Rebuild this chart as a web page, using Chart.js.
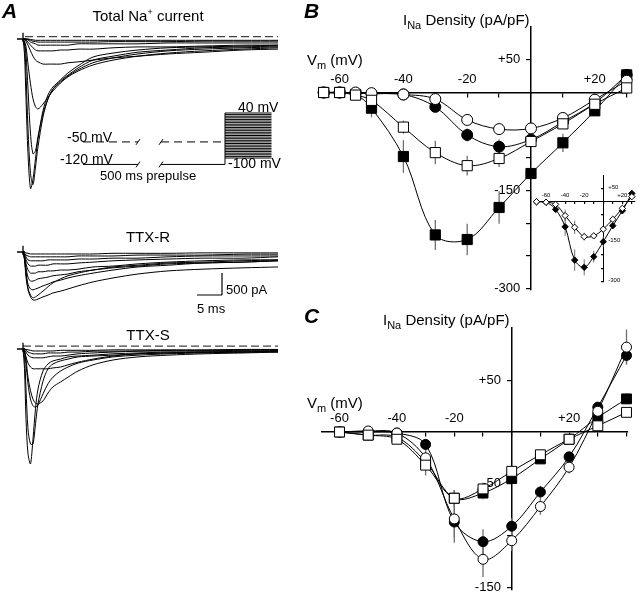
<!DOCTYPE html>
<html>
<head>
<meta charset="utf-8">
<script src="https://cdn.jsdelivr.net/npm/chart.js@4.4.1/dist/chart.umd.min.js"></script>
<style>
  html, body { margin: 0; padding: 0; background: #fff; overflow: hidden; }
  #fig { position: relative; width: 640px; height: 594px; overflow: hidden;
         font-family: "Liberation Sans", Arial, sans-serif; color: #000; }
  #fig canvas { position: absolute; }
  .t { position: absolute; white-space: nowrap; line-height: 1; }
  .c { transform: translateX(-50%); }
  .p { font-weight: bold; font-style: italic; font-size: 21px; }
  .sub { font-size: 11px; position: relative; top: 4px; }
  .sup { font-size: 9px; position: relative; top: -6px; }
</style>
</head>
<body>
<div id="fig">
  <canvas id="cTot" width="300" height="185" style="left:0;top:20px"></canvas>
  <canvas id="cR" width="300" height="100" style="left:0;top:225px"></canvas>
  <canvas id="cS" width="300" height="150" style="left:0;top:325px"></canvas>
  <canvas id="cB" width="340" height="310" style="left:300px;top:0"></canvas>
  <canvas id="cC" width="340" height="310" style="left:300px;top:300px"></canvas>
  <canvas id="cIn" width="120" height="125" style="left:520px;top:165px"></canvas>

  <div class="t p" style="left:2px;top:0">A</div>
  <div class="t p" style="left:304px;top:0">B</div>
  <div class="t p" style="left:304px;top:305px">C</div>

  <div class="t c" style="left:148px;top:8px;font-size:15px">Total Na<span class="sup">+</span> current</div>
  <div class="t c" style="left:148px;top:229px;font-size:15px">TTX-R</div>
  <div class="t c" style="left:148px;top:327px;font-size:15px">TTX-S</div>

  <div class="t" style="left:67px;top:130px;font-size:14px">-50 mV</div>
  <div class="t" style="left:60px;top:152px;font-size:14px">-120 mV</div>
  <div class="t" style="left:100px;top:169px;font-size:13px">500 ms prepulse</div>
  <div class="t" style="left:238px;top:100px;font-size:14px">40 mV</div>
  <div class="t" style="left:228px;top:156px;font-size:14px">-100 mV</div>
  <div class="t" style="left:226px;top:283px;font-size:13px">500 pA</div>
  <div class="t" style="left:197px;top:302px;font-size:13px">5 ms</div>

  <div class="t" style="left:403px;top:12px;font-size:15px">I<span class="sub">Na</span> Density (pA/pF)</div>
  <div class="t" style="left:307px;top:52px;font-size:15px">V<span class="sub">m</span> (mV)</div>
  <div class="t" style="left:383px;top:312px;font-size:15px">I<span class="sub">Na</span> Density (pA/pF)</div>
  <div class="t" style="left:307px;top:395px;font-size:15px">V<span class="sub">m</span> (mV)</div>
</div>

<script>
// ---------- panel A: current traces, pA, sampled at T_MS (ms) ----------
const T_MS = [0, 0.3, 0.6, 1, 1.5, 2, 2.5, 3, 4, 5, 6, 7.5, 9, 11, 14, 18, 23, 29, 36, 44, 51];

const TOT_1 = [0,-340,-1360,-2610,-3400,-3180,-2720,-2270,-1630,-1270,-1090,-930,-770,-610,-410,-320,-250,-200,-180,-160,-140];
const TOT_2 = [0,-110,-790,-2040,-3060,-3310,-2910,-2450,-1770,-1360,-1140,-950,-820,-660,-480,-390,-300,-250,-200,-180,-160];
const TOT_3 = [0,-70,-340,-1140,-2160,-2610,-2540,-2220,-1700,-1360,-1140,-980,-840,-700,-540,-430,-340,-270,-230,-200,-180];
const TOT_4 = [0,-50,-180,-570,-1020,-1360,-1540,-1590,-1480,-1320,-1180,-1000,-860,-730,-590,-480,-390,-320,-270,-230,-200];
const TOT_5 = [0,0,-50,-140,-270,-390,-480,-520,-570,-570,-570,-570,-540,-520,-480,-430,-390,-340,-300,-250,-230];
const TOT_6 = [0,0,-20,-70,-140,-200,-250,-270,-270,-270,-270,-250,-250,-230,-230,-200,-180,-180,-160,-140,-140];
const TOT_7 = [0,0,0,-20,-70,-90,-110,-140,-140,-140,-140,-140,-140,-110,-110,-110,-110,-90,-90,-90,-90];
const TOT_8 = [0,0,0,-10,-30,-50,-60,-70,-70,-70,-70,-70,-70,-70,-70,-60,-60,-60,-50,-50,-50];
const TOT_9 = [0,0,0,0,-10,-20,-30,-30,-30,-30,-30,-30,-30,-30,-30,-30,-30,-30,-30,-30,-30];

const R_1 = [0,-180,-570,-860,-1020,-1090,-1090,-1070,-1020,-980,-930,-890,-840,-770,-680,-590,-500,-430,-390,-360,-340];
const R_2 = [0,-140,-500,-820,-980,-1040,-1020,-980,-890,-790,-700,-610,-540,-480,-410,-340,-300,-250,-230,-200,-180];
const R_3 = [0,-140,-450,-730,-840,-860,-840,-820,-770,-730,-680,-640,-590,-540,-480,-410,-340,-300,-250,-230,-200];
const R_4 = [0,-110,-360,-570,-660,-660,-640,-610,-590,-570,-540,-520,-500,-450,-410,-360,-320,-270,-250,-230,-200];
const R_5 = [0,-90,-270,-410,-480,-480,-480,-450,-450,-430,-430,-410,-410,-390,-340,-320,-270,-230,-200,-180,-180];
const R_6 = [0,-70,-180,-270,-320,-320,-320,-300,-300,-300,-270,-270,-270,-250,-230,-200,-180,-160,-140,-140,-110];
const R_7 = [0,-50,-110,-180,-200,-200,-200,-200,-200,-180,-180,-180,-180,-160,-160,-140,-140,-110,-90,-90,-90];
const R_8 = [0,-20,-70,-90,-110,-110,-110,-110,-110,-110,-110,-110,-110,-90,-90,-90,-70,-70,-70,-50,-50];
const R_9 = [0,0,-20,-30,-45,-45,-45,-45,-45,-45,-45,-45,-45,-45,-45,-30,-30,-30,-20,-20,-20];

const S_1 = [0,-450,-1590,-2380,-2610,-2040,-1360,-910,-500,-340,-270,-230,-180,-160,-140,-110,-90,-70,-70,-50,-50];
const S_2 = [0,-180,-910,-1820,-2160,-2160,-1700,-1250,-730,-450,-340,-270,-230,-180,-160,-140,-110,-90,-70,-70,-50];
const S_3 = [0,-70,-340,-790,-1140,-1290,-1320,-1270,-1020,-790,-640,-500,-410,-320,-250,-180,-140,-110,-90,-70,-70];
const S_4 = [0,-45,-230,-640,-950,-1140,-1230,-1250,-1180,-1000,-860,-750,-640,-500,-360,-250,-180,-140,-110,-90,-70];
const S_5 = [0,-45,-180,-320,-410,-450,-450,-450,-450,-450,-430,-410,-360,-300,-230,-160,-110,-90,-70,-70,-45];
const S_6 = [0,-20,-70,-140,-180,-200,-200,-200,-200,-180,-160,-160,-140,-110,-90,-70,-50,-45,-45,-30,-30];
const S_7 = [0,0,-30,-70,-90,-110,-110,-110,-110,-90,-90,-90,-70,-70,-50,-50,-45,-30,-30,-20,-20];
const S_8 = [0,0,-10,-20,-30,-45,-45,-45,-45,-45,-45,-30,-30,-30,-30,-20,-20,-20,-20,-10,-10];

// zero-current dashed lines (pA) and their time span
const ZERO_TOT = 55, ZERO_S = 65, ZERO_T = [0.4, 51];

// voltage protocol (mV / ms on the same time axis, prepulse drawn broken)
const HOLD_V = -120, PRE_V = -50;
const PRE_T1 = [12, 23], PRE_T2 = [27.6, 40.4], STEP_T = [40.4, 49.7];
const STEP_V = [-100,-95,-90,-85,-80,-75,-70,-65,-60,-55,-50,-45,-40,-35,-30,-25,-20,-15,-10,-5,0,5,10,15,20,25,30,35,40];
const BREAK_T = [23, 27.6];

// scale bar: 5 ms, 500 pA
const BAR_T = 39.8, BAR_I = -977, BAR_DT = 5, BAR_DI = 500;

// ---------- panel B: I-V, pA/pF ----------
const V_B = [-65, -60, -55, -50, -40, -30, -20, -10, 0, 10, 20, 30];
const B_FSQ = [0, 0, -3, -24, -98, -218, -225, -176, -124, -77, -28, 27];
const B_OSQ = [0, 0, -4, -12, -53, -92, -112, -101, -75, -48, -18, 7];
const B_FCI = [0, 0, -1, -2, -3, -22, -65, -83, -72, -45, -16, 27];
const B_OCI = [0, 0, 0, -1, -3, -10, -42, -56, -55, -39, -11, 18];
const B_FSQ_ERR = [0, 0, 0, 14, 25, 23, 24, 25, 5, 14, 8, 0];
const B_OSQ_ERR = [0, 0, 0, 5, 10, 18, 15, 13, 6, 8, 4, 0];
const B_FCI_ERR = [0, 0, 0, 0, 0, 5, 10, 11, 4, 4, 3, 0];
const B_OCI_ERR = [0, 0, 0, 0, 0, 3, 5, 4, 3, 4, 3, 0];
const B_XTICKS = [-60, -50, -40, -30, -20, -10, 0, 10, 20, 30];
const B_XLABELS = [-60, -40, -20, 20];
const B_YTICKS = [-300, -250, -200, -150, -100, -50, 50];
const B_YLABELS = [-300, -150, 50];

// inset of B
const V_IN = [-70, -60, -50, -40, -30, -20, -10, 0, 10, 20, 30];
const IN_OPEN = [0, -2, -10, -52, -96, -131, -128, -103, -66, -25, 19];
const IN_FILL = [0, -2, -29, -94, -219, -246, -206, -150, -90, -34, 31];
const IN_OPEN_ERR = [0, 0, 8, 22, 25, 15, 8, 6, 8, 5, 0];
const IN_FILL_ERR = [0, 0, 8, 34, 40, 30, 22, 19, 10, 6, 0];
const IN_XTICKS = [-70, -60, -50, -40, -30, -20, -10, 0, 10, 20, 30];
const IN_XLABELS = [-60, -40, -20, 20];
const IN_YTICKS = [-300, -250, -200, -150, -100, -50, 50];
const IN_YLABELS = [-300, -150, 50];

// ---------- panel C: I-V, pA/pF ----------
const V_C = [-60, -50, -40, -30, -20, -10, 0, 10, 20, 30, 40];
const C_OCI = [0, 1, -1, -25, -84, -123, -105, -72, -34, 20, 82];
const C_FCI = [0, 0, -1, -12, -87, -106, -91, -58, -24, 24, 74];
const C_OSQ = [0, -3, -7, -32, -64, -55, -38, -22, -7, 6, 19];
const C_FSQ = [0, -3, -5, -29, -64, -59, -45, -26, -7, 14, 32];
const C_OCI_ERR = [0, 0, 3, 10, 23, 17, 10, 8, 6, 7, 17];
const C_FCI_ERR = [0, 0, 0, 5, 15, 12, 8, 6, 5, 5, 8];
const C_OSQ_ERR = [0, 0, 3, 10, 8, 6, 5, 4, 3, 3, 4];
const C_FSQ_ERR = [0, 0, 3, 8, 8, 6, 5, 4, 3, 3, 5];
const C_XTICKS = [-60, -50, -40, -30, -20, -10, 0, 10, 20, 30, 40];
const C_XLABELS = [-60, -40, -20, 20];
const C_YTICKS = [-150, -100, -50, 50];
const C_YLABELS = [-150, -50, 50];

Chart.defaults.font.family = '"Liberation Sans", Arial, sans-serif';
Chart.defaults.color = '#000';

const base = {
  responsive: false, animation: false, devicePixelRatio: 1, events: [],
  plugins: { legend: { display: false }, tooltip: { enabled: false } }
};
const fmt = v => (v > 0 ? '+' + v : String(v));

function line(data, o) {
  return Object.assign({ data, borderColor: '#000', borderWidth: 1, pointRadius: 0, tension: 0, fill: false }, o);
}
// list of [[x1,y1],[x2,y2]] -> one dataset with gaps
function segs(list) {
  const out = [];
  list.forEach(s => { s.forEach(p => out.push({ x: p[0], y: p[1] })); out.push({ x: s[1][0], y: null }); });
  return out;
}

// ---- error bars drawn from each dataset's "errors" array
const errorBars = {
  id: 'errorBars',
  beforeDatasetsDraw(chart) {
    const { ctx, scales: { x, y } } = chart;
    ctx.save();
    ctx.strokeStyle = '#707070';
    ctx.lineWidth = chart.canvas.id === 'cIn' ? 1 : 1.3;
    chart.data.datasets.forEach(ds => {
      if (!ds.errors) return;
      ds.data.forEach((p, i) => {
        const e = ds.errors[i];
        if (!e) return;
        const px = x.getPixelForValue(p.x);
        ctx.beginPath();
        ctx.moveTo(px, y.getPixelForValue(p.y + e));
        ctx.lineTo(px, y.getPixelForValue(p.y - e));
        ctx.stroke();
      });
    });
    ctx.restore();
  }
};

// ---------- panel A charts ----------
const T_MIN = -4.6, T_MAX = 55.4;      // 5 px per ms, t=0 at x=23
const PA_PER_PX = 500 / 22;

function traceChart(id, traces, h, basePx, extra, moreScales) {
  const ds = traces.map(v => line(T_MS.map((t, i) => ({ x: t, y: v[i] })), { tension: 0.3 }));
  const art = line(segs([[[-1.2, 0], [0.4, 0]], [[0, 140], [0, -70]]]), { borderWidth: 1.3 });
  new Chart(document.getElementById(id), {
    type: 'line',
    data: { datasets: ds.concat([art], extra) },
    options: Object.assign({}, base, {
      layout: { padding: 0 },
      scales: Object.assign({
        x: { type: 'linear', display: false, min: T_MIN, max: T_MAX },
        y: { display: false, min: -(h - basePx) * PA_PER_PX, max: basePx * PA_PER_PX }
      }, moreScales || {})
    })
  });
}

// protocol on its own mV axis in the Total chart
const MV_PER_PX = 140 / 45, MV40_PX = 93;
const proto = [];
proto.push(line(segs([[[PRE_T1[0], HOLD_V], [PRE_T1[1], HOLD_V]]]), { yAxisID: 'yv' }));
proto.push(line([{ x: PRE_T2[0], y: HOLD_V }, { x: PRE_T2[1], y: HOLD_V }, { x: PRE_T2[1], y: 40 }], { yAxisID: 'yv' }));
proto.push(line(segs([[[PRE_T1[0], PRE_V], [PRE_T1[1], PRE_V]], [[PRE_T2[0], PRE_V], [PRE_T2[1], PRE_V]]]),
  { yAxisID: 'yv', borderDash: [8, 5] }));
proto.push(line(segs(STEP_V.map(v => [[STEP_T[0], v], [STEP_T[1], v]])), { yAxisID: 'yv' }));
const brk = [];
BREAK_T.forEach(t => [PRE_V, HOLD_V].forEach(v => brk.push([[t - 0.4, v - 9], [t + 0.4, v + 9]])));
proto.push(line(segs(brk), { yAxisID: 'yv' }));

traceChart('cTot', [TOT_1, TOT_2, TOT_3, TOT_4, TOT_5, TOT_6, TOT_7, TOT_8, TOT_9], 185, 19,
  [line([{ x: ZERO_T[0], y: ZERO_TOT }, { x: ZERO_T[1], y: ZERO_TOT }], { borderDash: [8, 4], borderColor: '#444', borderWidth: 1.2 })]
    .concat(proto),
  { yv: { display: false, min: 40 - (185 - MV40_PX) * MV_PER_PX, max: 40 + MV40_PX * MV_PER_PX } });

traceChart('cR', [R_1, R_2, R_3, R_4, R_5, R_6, R_7, R_8, R_9], 100, 27,
  [line(segs([[[BAR_T - BAR_DT, BAR_I], [BAR_T, BAR_I]], [[BAR_T, BAR_I], [BAR_T, BAR_I + BAR_DI]]]), { borderWidth: 1.2 })]);

traceChart('cS', [S_1, S_2, S_3, S_4, S_5, S_6, S_7, S_8], 150, 24,
  [line([{ x: ZERO_T[0] - 0.4, y: ZERO_S }, { x: ZERO_T[1], y: ZERO_S }], { borderDash: [8, 4], borderColor: '#444', borderWidth: 1.2 })]);

// ---------- I-V charts ----------
function series(xs, ys, errs, style, filled, r) {
  return {
    data: xs.map((x, i) => ({ x, y: ys[i] })), errors: errs,
    borderColor: '#000', borderWidth: 1, tension: 0.35, clip: 15,
    pointStyle: style, pointRadius: r, pointBorderWidth: 1,
    pointBorderColor: '#000', pointBackgroundColor: filled ? '#000' : '#fff'
  };
}

function ivOptions(pad, xr, yr, xt, xl, yt, yl, fs, tl, xpad, showY) {
  return Object.assign({}, base, {
    layout: { padding: pad },
    scales: {
      x: {
        type: 'linear', min: xr[0], max: xr[1], position: { y: 0 },
        afterBuildTicks: s => { s.ticks = xt.map(v => ({ value: v })); },
        grid: { drawOnChartArea: false, tickLength: tl, color: '#000', lineWidth: 1.2 },
        border: { color: '#000', width: fs > 8 ? 1.5 : 1 },
        ticks: { autoSkip: false, maxRotation: 0, padding: xpad, font: { size: fs },
                 callback: v => (xl.includes(v) ? fmt(v) : '') }
      },
      y: {
        type: 'linear', min: yr[0], max: yr[1], position: { x: 0 },
        afterBuildTicks: s => { s.ticks = yt.map(v => ({ value: v })); },
        grid: { drawOnChartArea: false, tickLength: tl, color: '#000', lineWidth: 1.2 },
        border: { color: '#000', width: fs > 8 ? 1.5 : 1 },
        ticks: { display: showY, autoSkip: false, font: { size: fs },
                 callback: v => (yl.includes(v) ? fmt(v) + '   ' : '') }
      }
    }
  });
}

// B: 0 mV at x=531, 3.19 px/mV; 0 pA/pF at y=92.5, 0.6533 px per unit
new Chart(document.getElementById('cB'), {
  type: 'line',
  data: { datasets: [
    series(V_B, B_OSQ, B_OSQ_ERR, 'rect', false, 7.2),
    series(V_B, B_OCI, B_OCI_ERR, 'circle', false, 5.5),
    series(V_B, B_FCI, B_FCI_ERR, 'circle', true, 5.5),
    series(V_B, B_FSQ, B_FSQ_ERR, 'rect', true, 7.2)
  ] },
  options: ivOptions({ left: 22, right: 12, top: 27, bottom: 20 },
    [-65.52, 30.41], [-302.3, 100.26], B_XTICKS, B_XLABELS, B_YTICKS, B_YLABELS, 13, 4, -25, true),
  plugins: [errorBars]
});

// inset y labels sit to the right of its axis
const insetYLabels = {
  id: 'insetYLabels',
  afterDraw(chart) {
    const { ctx, scales: { x, y } } = chart;
    ctx.save();
    ctx.font = '6px "Liberation Sans", Arial, sans-serif';
    ctx.fillStyle = '#000';
    ctx.textAlign = 'left';
    ctx.textBaseline = 'middle';
    IN_YLABELS.forEach(v => ctx.fillText(fmt(v), x.getPixelForValue(0) + 5, y.getPixelForValue(v) - 1));
    ctx.restore();
  }
};

new Chart(document.getElementById('cIn'), {
  type: 'line',
  data: { datasets: [
    series(V_IN, IN_OPEN, IN_OPEN_ERR, 'rectRot', false, 3.2),
    series(V_IN, IN_FILL, IN_FILL_ERR, 'rectRot', true, 3.2)
  ] },
  options: ivOptions({ left: 13, right: 0, top: 10, bottom: 8 },
    [-73.7, 33.3], [-301, 100.1], IN_XTICKS, IN_XLABELS, IN_YTICKS, IN_YLABELS, 6, 2, -12, false),
  plugins: [errorBars, insetYLabels]
});

// C: 0 mV at x=511.7, 2.87 px/mV; 0 at y=432, 1.035 px per unit
new Chart(document.getElementById('cC'), {
  type: 'line',
  data: { datasets: [
    series(V_C, C_OSQ, C_OSQ_ERR, 'rect', false, 7),
    series(V_C, C_OCI, C_OCI_ERR, 'circle', false, 5),
    series(V_C, C_FCI, C_FCI_ERR, 'circle', true, 5),
    series(V_C, C_FSQ, C_FSQ_ERR, 'rect', true, 7)
  ] },
  options: ivOptions({ left: 22, right: 12, top: 28, bottom: 20 },
    [-66.1, 40.52], [-152.66, 100.5], C_XTICKS, C_XLABELS, C_YTICKS, C_YLABELS, 13, 4, -25, true),
  plugins: [errorBars]
});
</script>
</body>
</html>
